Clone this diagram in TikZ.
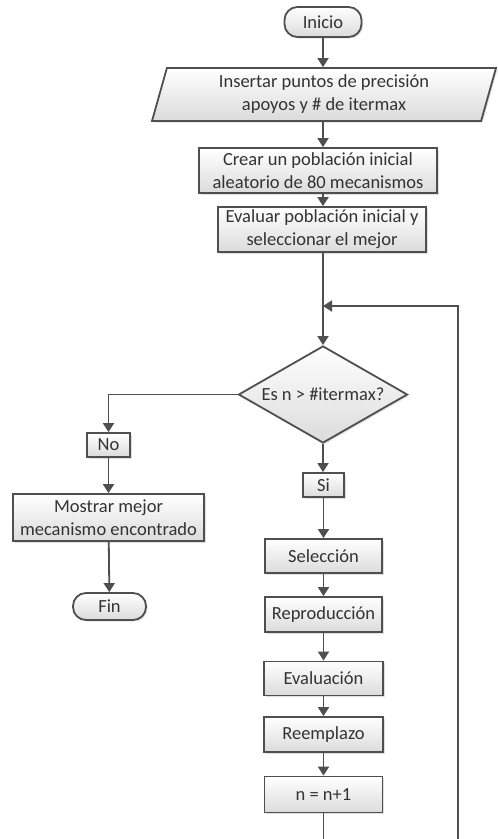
\documentclass[tikz,border=0pt]{standalone}
\usepackage{fontspec}
\setmainfont{Carlito}
\usetikzlibrary{shapes.geometric,arrows.meta,shadows}
\definecolor{linec}{HTML}{4F4F4F}
\definecolor{textc}{HTML}{333333}
\tikzset{
  base/.style={draw=linec, line width=1.8pt, top color=white, bottom color=black!14,
    drop shadow={shadow xshift=1.5pt, shadow yshift=-1.5pt, opacity=0.25},
    text=textc, font=\fontsize{18.5}{23}\selectfont, align=center, inner sep=0pt},
  boxn/.style={base, rectangle, minimum width=#1},
  term/.style={base, rectangle, rounded corners=13pt},
  io/.style={base, trapezium, trapezium left angle=69, trapezium right angle=111,
    trapezium stretches body, minimum width=344pt, minimum height=53pt},
  dec/.style={base, diamond, minimum width=169pt, minimum height=97pt, aspect=1.74},
  conn/.style={draw=linec, line width=1.8pt, -{Triangle[length=9pt,width=11pt]}},
  plain/.style={draw=linec, line width=1.8pt},
}
\begin{document}
\begin{tikzpicture}[x=1pt,y=-1pt]
\useasboundingbox (0,0) rectangle (498,839);
\clip (0,0) rectangle (498,839);
\fill[white] (0,0) rectangle (498,839);
\node[term, minimum width=77pt, minimum height=30pt] (inicio) at (323,22) {Inicio};
\node[io] (ins) at (324,94.5) {Insertar puntos de precisión\\apoyos y \# de itermax};
\node[boxn=238pt, minimum height=45pt] (crear) at (318,170.5) {Crear un población inicial\\aleatorio de 80 mecanismos};
\node[boxn=208pt, minimum height=45pt] (evalu) at (322,229.5) {Evaluar población inicial y\\seleccionar el mejor};
\coordinate (j) at (323,306);
\node[dec] (dia) at (323,394.5) {Es n > \#itermax?};
\node[boxn=43pt, minimum height=24pt] (no) at (108.5,445) {No};
\node[boxn=191pt, minimum height=47pt] (most) at (108.5,517.5) {Mostrar mejor\\mecanismo encontrado};
\node[term, minimum width=73pt, minimum height=27pt] (fin) at (109.5,606.5) {Fin};
\node[boxn=41pt, minimum height=24pt] (si) at (323.5,485) {Si};
\node[boxn=117pt, minimum height=34pt] (sel) at (323.5,556) {Selección};
\node[boxn=117pt, minimum height=35pt] (rep) at (323.5,614.5) {Reproducción};
\node[boxn=119pt, minimum height=34pt] (eva) at (323.5,678.5) {Evaluación};
\node[boxn=119pt, minimum height=35pt] (ree) at (323.5,734.5) {Reemplazo};
\node[boxn=118pt, minimum height=36pt] (nn) at (323.5,794.5) {n = n+1};
\coordinate (lb) at (323.5,870);
\coordinate (rb) at (458,870);
\coordinate (rt) at (458,306);
% connectors
\draw[conn] (inicio) -- (ins.north -| inicio);
\draw[conn] (ins.south -| inicio) -- (crear.north -| inicio);
\draw[conn] (crear.south -| inicio) -- (evalu.north -| inicio);
\draw[plain] (evalu.south -| inicio) -- (j);
\draw[conn] (j) -- (dia.north);
\draw[conn] (dia.west) -| (no.north);
\draw[conn] (no) -- (most);
\draw[conn] (most) -- (fin);
\draw[conn] (dia.south) -- (si.north -| dia.south);
\draw[conn] (si) -- (sel);
\draw[conn] (sel) -- (rep);
\draw[conn] (rep) -- (eva);
\draw[conn] (eva) -- (ree);
\draw[conn] (ree) -- (nn);
\draw[conn] (nn.south) -- (lb) -- (rb) -- (rt) -- (j);
\end{tikzpicture}
\end{document}
